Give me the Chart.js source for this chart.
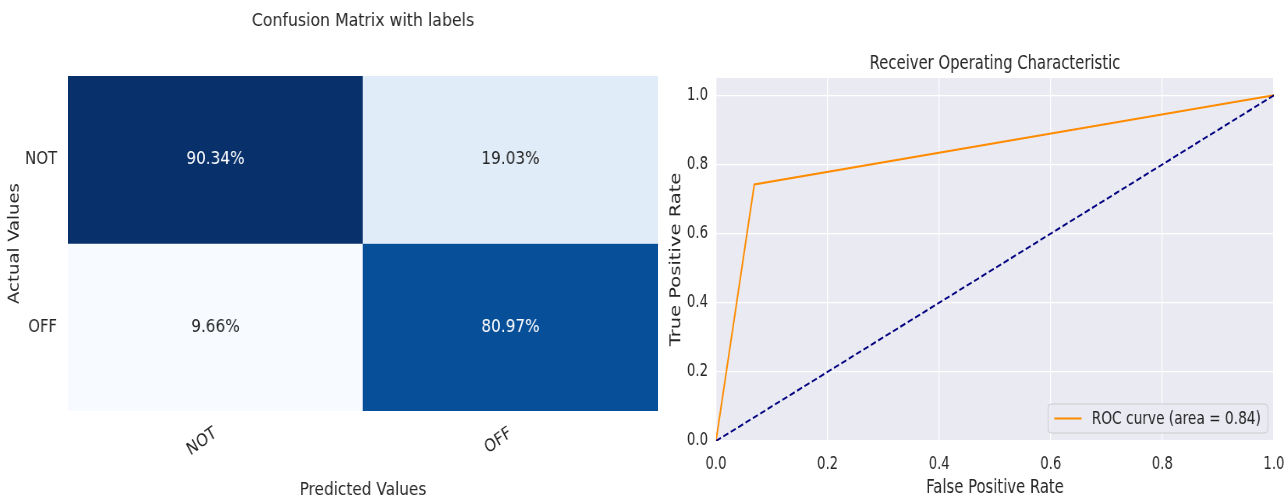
<!DOCTYPE html>
<html>
<head>
<meta charset="utf-8">
<script src="https://cdn.jsdelivr.net/npm/chart.js@4.4.1/dist/chart.umd.min.js"></script>
<style>
  html, body { margin: 0; padding: 0; background: #fff; overflow: hidden; width: 1288px; height: 499px; }
  .panel { position: absolute; top: 0; height: 499px; transform-origin: 0 0; }
  .panel canvas { display: block; }
  #cmPanel { left: 0; width: 776px; transform: scaleX(0.85); }
  #rocPanel { left: 660px; width: 805px; transform: scaleX(0.78); }
</style>
</head>
<body>
<div id="cmPanel" class="panel"><canvas id="cm" width="776" height="499"></canvas></div>
<div id="rocPanel" class="panel"><canvas id="roc" width="805" height="499"></canvas></div>
<script>
// Confusion matrix (rates per predicted class)
const actualLabels = ['NOT', 'OFF'];
const predictedLabels = ['NOT', 'OFF'];
const rateActualNot = [0.9034, 0.1903];
const rateActualOff = [0.0966, 0.8097];

// ROC curve points
const fpr = [0.0, 0.0686, 1.0];
const tpr = [0.0, 0.742, 1.0];
const chanceFpr = [0.0, 1.0];
const chanceTpr = [0.0, 1.0];
const rocTicks = [0.0, 0.2, 0.4, 0.6, 0.8, 1.0];

const FONT = "'DejaVu Sans', sans-serif";
const INK = '#262626';

// matplotlib "Blues" colour map
const bluesStops = ['#f7fbff', '#deebf7', '#c6dbef', '#9ecae1', '#6baed6', '#4292c6', '#2171b5', '#08519c', '#08306b'];
function hexToRgb(h) { return [1, 3, 5].map(i => parseInt(h.slice(i, i + 2), 16)); }
function blues(t) {
  t = Math.min(1, Math.max(0, t));
  const pos = t * (bluesStops.length - 1);
  const i = Math.min(bluesStops.length - 2, Math.floor(pos));
  const f = pos - i;
  const a = hexToRgb(bluesStops[i]), b = hexToRgb(bluesStops[i + 1]);
  const c = a.map((v, k) => Math.round(v + (b[k] - v) * f));
  return `rgb(${c[0]},${c[1]},${c[2]})`;
}

const matrixRows = [rateActualNot, rateActualOff];
const allRates = matrixRows.flat();
const vMin = Math.min(...allRates), vMax = Math.max(...allRates);
const shade = v => (v - vMin) / (vMax - vMin);

// Percentages written in the middle of every cell
const cellText = {
  id: 'cellText',
  afterDatasetsDraw(chart) {
    const ctx = chart.ctx;
    chart.data.datasets.forEach((ds, di) => {
      const meta = chart.getDatasetMeta(di);
      meta.data.forEach((el, i) => {
        const v = ds.rates[i];
        const p = el.getProps(['x', 'y', 'base'], true);
        ctx.save();
        ctx.fillStyle = shade(v) > 0.5 ? '#ffffff' : INK;
        ctx.font = `18px ${FONT}`;
        ctx.textAlign = 'center';
        ctx.textBaseline = 'middle';
        ctx.fillText((v * 100).toFixed(2) + '%', p.x, (p.y + p.base) / 2);
        ctx.restore();
      });
    });
  }
};

new Chart(document.getElementById('cm'), {
  type: 'bar',
  data: {
    labels: predictedLabels,
    datasets: matrixRows.map((row, r) => ({
      label: actualLabels[r],
      rates: row,
      data: row.map(() => [r, r + 1]),
      backgroundColor: row.map(v => blues(shade(v))),
      borderWidth: 0,
      barPercentage: 1,
      categoryPercentage: 1,
      grouped: false
    }))
  },
  options: {
    animation: false,
    responsive: false,
    devicePixelRatio: 1,
    layout: { padding: { top: 0, right: 1.9, bottom: 0, left: 0 } },
    plugins: {
      legend: { display: false },
      tooltip: { enabled: false },
      title: {
        display: true,
        fullSize: false,
        text: 'Confusion Matrix with labels',
        color: INK,
        font: { family: FONT, size: 18.5, weight: 'normal', lineHeight: 1.2 },
        padding: { top: 9.9, bottom: 43.9 }
      }
    },
    scales: {
      x: {
        type: 'category',
        grid: { display: false, drawTicks: false },
        border: { display: false },
        ticks: { color: INK, font: { family: FONT, size: 17.5 }, minRotation: 32, maxRotation: 32, padding: 12 },
        title: { display: true, text: 'Predicted Values', color: INK, font: { family: FONT, size: 18, lineHeight: 1 }, padding: { top: 0, bottom: 0 } },
        afterFit(s) { s.height = 88; s.paddingLeft = 0; s.paddingRight = 0; }
      },
      y: {
        type: 'linear',
        min: 0,
        max: actualLabels.length,
        reverse: true,
        grid: { display: false, drawTicks: false },
        border: { display: false },
        afterBuildTicks(s) { s.ticks = actualLabels.map((_, i) => ({ value: i + 0.5 })); },
        ticks: { color: INK, font: { family: FONT, size: 17.5 }, padding: 12.9, callback: (v, i) => actualLabels[i] },
        title: { display: true, text: 'Actual Values', color: INK, font: { family: FONT, size: 18, lineHeight: 1 }, padding: { top: 8.6, bottom: 0 } },
        afterFit(s) { s.width = 80; s.paddingTop = 0; s.paddingBottom = 0; }
      }
    }
  },
  plugins: [cellText]
});

// Area under the ROC curve (trapezoid rule)
let auc = 0;
for (let i = 1; i < fpr.length; i++) auc += (fpr[i] - fpr[i - 1]) * (tpr[i] + tpr[i - 1]) / 2;

// Grey plot background
const plotBg = {
  id: 'plotBg',
  beforeDraw(chart) {
    const { left, top, width, height } = chart.chartArea;
    const ctx = chart.ctx;
    ctx.save();
    ctx.fillStyle = '#eaeaf2';
    ctx.fillRect(left, top, width, height);
    ctx.restore();
  }
};

// Legend box in the lower right corner
const rocLegend = {
  id: 'rocLegend',
  afterDraw(chart) {
    const ds = chart.data.datasets[0];
    const ctx = chart.ctx;
    const { right, bottom } = chart.chartArea;
    const text = `${ds.label} (area = ${auc.toFixed(2)})`;
    ctx.save();
    ctx.font = `17.6px ${FONT}`;
    const tw = ctx.measureText(text).width;
    const handle = 35, gap = 13, padL = 8, padR = 9, boxH = 29;
    const boxW = padL + handle + gap + tw + padR;
    const bx = right - 7.7 - boxW, by = bottom - 8 - boxH;
    ctx.beginPath();
    ctx.roundRect(bx, by, boxW, boxH, 4);
    ctx.fillStyle = 'rgba(234,234,242,0.8)';
    ctx.fill();
    ctx.strokeStyle = '#cccccc';
    ctx.lineWidth = 1;
    ctx.stroke();
    const cy = by + boxH / 2;
    ctx.beginPath();
    ctx.moveTo(bx + padL, cy);
    ctx.lineTo(bx + padL + handle, cy);
    ctx.strokeStyle = ds.borderColor;
    ctx.lineWidth = 2;
    ctx.stroke();
    ctx.fillStyle = INK;
    ctx.textAlign = 'left';
    ctx.textBaseline = 'middle';
    ctx.fillText(text, bx + padL + handle + gap, cy + 1);
    ctx.restore();
  }
};

new Chart(document.getElementById('roc'), {
  type: 'scatter',
  data: {
    datasets: [
      {
        label: 'ROC curve',
        data: fpr.map((x, i) => ({ x, y: tpr[i] })),
        showLine: true,
        borderColor: '#ff8c00',
        borderWidth: 2,
        pointRadius: 0,
        order: 1
      },
      {
        label: 'chance',
        data: chanceFpr.map((x, i) => ({ x, y: chanceTpr[i] })),
        showLine: true,
        borderColor: '#000080',
        borderWidth: 2,
        borderDash: [7, 3.5],
        pointRadius: 0,
        order: 0
      }
    ]
  },
  options: {
    animation: false,
    responsive: false,
    devicePixelRatio: 1,
    layout: { padding: { top: 0, right: 17.9, bottom: 0, left: 0 } },
    plugins: {
      legend: { display: false },
      tooltip: { enabled: false },
      title: {
        display: true,
        fullSize: false,
        text: 'Receiver Operating Characteristic',
        color: INK,
        font: { family: FONT, size: 19, weight: 'normal', lineHeight: 1.2 },
        padding: { top: 52.6, bottom: 2.6 }
      }
    },
    scales: {
      x: {
        type: 'linear',
        min: 0,
        max: 1,
        afterBuildTicks(s) { s.ticks = rocTicks.map(v => ({ value: v })); },
        grid: { color: '#ffffff', lineWidth: 1.3, drawTicks: false },
        border: { display: false },
        ticks: { color: INK, font: { family: FONT, size: 17 }, padding: 13, maxRotation: 0, callback: v => v.toFixed(1) },
        title: { display: true, text: 'False Positive Rate', color: INK, font: { family: FONT, size: 19, lineHeight: 1 }, padding: { top: 0, bottom: 1.5 } },
        afterFit(s) { s.height = 58; s.paddingLeft = 0; s.paddingRight = 0; }
      },
      y: {
        type: 'linear',
        min: 0,
        max: 1.05,
        afterBuildTicks(s) { s.ticks = rocTicks.map(v => ({ value: v })); },
        grid: { color: '#ffffff', lineWidth: 1.3, drawTicks: false },
        border: { display: false },
        ticks: { color: INK, font: { family: FONT, size: 17 }, padding: 10.3, callback: v => v.toFixed(1) },
        title: { display: true, text: 'True Positive Rate', color: INK, font: { family: FONT, size: 19.5, lineHeight: 1 }, padding: { top: 10.8, bottom: 0 } },
        afterFit(s) { s.width = 71.8; s.paddingTop = 0; s.paddingBottom = 0; }
      }
    }
  },
  plugins: [plotBg, rocLegend]
});
</script>
</body>
</html>
